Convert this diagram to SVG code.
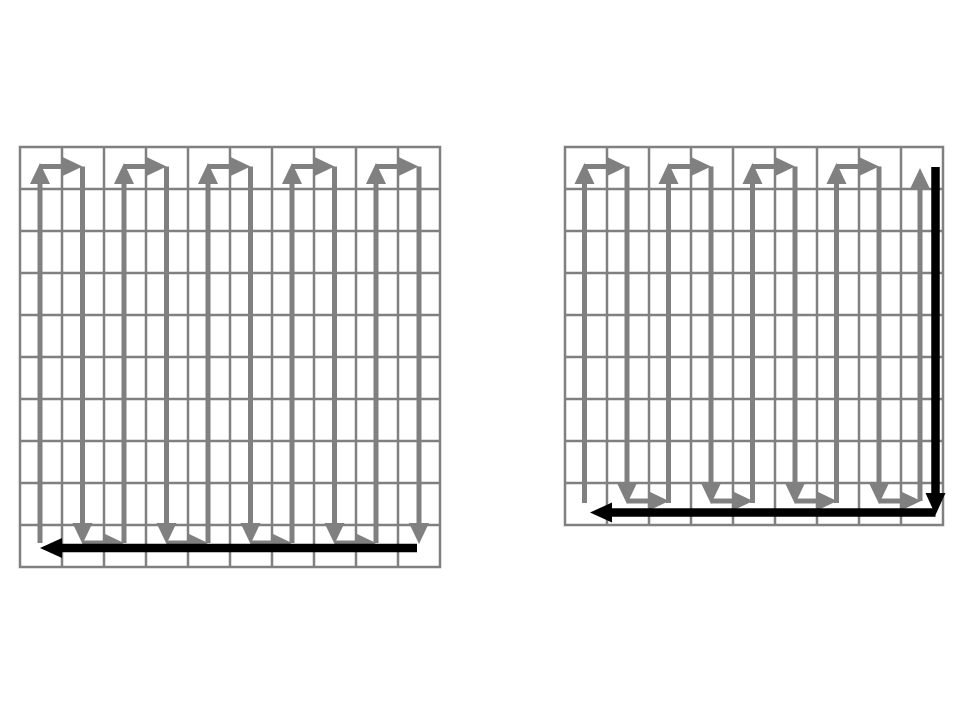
<svg xmlns="http://www.w3.org/2000/svg" width="960" height="720" viewBox="0 0 960 720">
<style>
.grid{stroke:#808080;stroke-width:2.5;fill:none}
.g{stroke:#808080;stroke-width:5;fill:none;marker-end:url(#hg)}
.k{stroke:#000;stroke-width:8.5;fill:none;marker-end:url(#hk)}
</style>
<defs>
<marker id="hg" markerUnits="userSpaceOnUse" markerWidth="22" markerHeight="22" viewBox="0 -11 22 22" refX="0" refY="0" orient="auto"><path d="M0,-10 L21,0 L0,10 z" fill="#808080"/></marker>
<marker id="hk" markerUnits="userSpaceOnUse" markerWidth="24" markerHeight="24" viewBox="0 -12 24 24" refX="0" refY="0" orient="auto"><path d="M0,-10 L22,0 L0,10 z" fill="#000"/></marker>
</defs>
<rect width="960" height="720" fill="#fff"/>
<g id="grid-left" class="grid">
<rect x="20" y="147" width="420" height="420"/>
<path d="M62,147V567M104,147V567M146,147V567M188,147V567M230,147V567M272,147V567M314,147V567M356,147V567M398,147V567"/>
<path d="M20,189H440M20,231H440M20,273H440M20,315H440M20,357H440M20,399H440M20,441H440M20,483H440M20,525H440"/>
</g>
<g id="grid-right" class="grid">
<rect x="565" y="147" width="378" height="378"/>
<path d="M607,147V525M649,147V525M691,147V525M733,147V525M775,147V525M817,147V525M859,147V525M901,147V525"/>
<path d="M565,189H943M565,231H943M565,273H943M565,315H943M565,357H943M565,399H943M565,441H943M565,483H943"/>
</g>
<g id="connectors">
<g id="left-path">
<path class="g" d="M40,543V184"/><path class="g" d="M40,166.5H61.5"/><path class="g" d="M82.5,166.5V523"/><path class="g" d="M82.5,543H103"/>
<path class="g" d="M124,543V184"/><path class="g" d="M124,166.5H145.5"/><path class="g" d="M166.5,166.5V523"/><path class="g" d="M166.5,543H187"/>
<path class="g" d="M208,543V184"/><path class="g" d="M208,166.5H229.5"/><path class="g" d="M250.5,166.5V523"/><path class="g" d="M250.5,543H271"/>
<path class="g" d="M292,543V184"/><path class="g" d="M292,166.5H313.5"/><path class="g" d="M334.5,166.5V523"/><path class="g" d="M334.5,543H355"/>
<path class="g" d="M376,543V184"/><path class="g" d="M376,166.5H397.5"/><path class="g" d="M419,166.5V523"/>
<path class="k" d="M417,548H62"/>
</g>
<g id="right-path">
<path class="g" d="M584.5,503V184"/><path class="g" d="M584.5,166.5H606"/><path class="g" d="M627,166.5V483"/><path class="g" d="M627,501H648"/>
<path class="g" d="M668.5,503V184"/><path class="g" d="M668.5,166.5H690"/><path class="g" d="M711,166.5V483"/><path class="g" d="M711,501H732"/>
<path class="g" d="M752.5,503V184"/><path class="g" d="M752.5,166.5H774"/><path class="g" d="M795,166.5V483"/><path class="g" d="M795,501H816"/>
<path class="g" d="M836.5,503V184"/><path class="g" d="M836.5,166.5H858"/><path class="g" d="M879,166.5V483"/><path class="g" d="M879,501H900"/>
<path class="g" d="M920,501V189"/>
<path class="k" d="M935.5,167V493"/>
<path class="k" d="M935.5,512.5H612"/>
</g>
</g>
</svg>
